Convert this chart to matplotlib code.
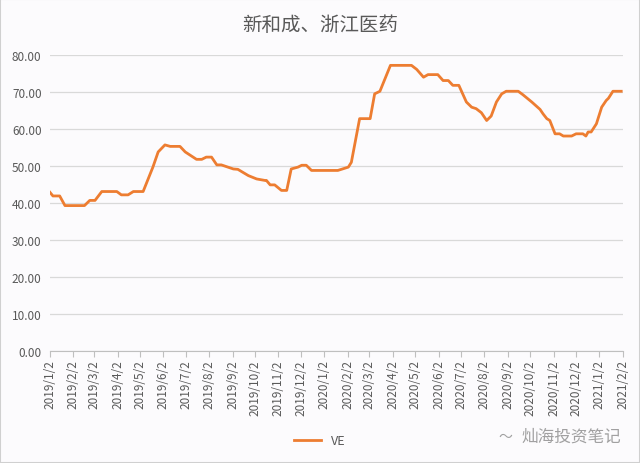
import matplotlib.pyplot as plt
from matplotlib.patches import Rectangle
import pandas as pd

plt.rcParams['font.family'] = ['Noto Sans CJK SC', 'DejaVu Sans']

# VE price series
dates = [
    '2019-01-02', '2019-01-06', '2019-01-15', '2019-01-22', '2019-02-17', '2019-02-24',
    '2019-03-03', '2019-03-12', '2019-04-01', '2019-04-07', '2019-04-16', '2019-04-23',
    '2019-05-06', '2019-05-19', '2019-05-26', '2019-06-04', '2019-06-11', '2019-06-24',
    '2019-07-01', '2019-07-16', '2019-07-23', '2019-07-29', '2019-08-05', '2019-08-12',
    '2019-08-18', '2019-09-03', '2019-09-09', '2019-09-23', '2019-10-04', '2019-10-15',
    '2019-10-17', '2019-10-22', '2019-10-28', '2019-11-06', '2019-11-13', '2019-11-19',
    '2019-11-28', '2019-12-03', '2019-12-09', '2019-12-16', '2020-01-20', '2020-02-03',
    '2020-02-07', '2020-02-18', '2020-03-03', '2020-03-09', '2020-03-16', '2020-03-30',
    '2020-04-27', '2020-05-04', '2020-05-13', '2020-05-19', '2020-06-01', '2020-06-08',
    '2020-06-15', '2020-06-21', '2020-06-29', '2020-07-09', '2020-07-16', '2020-07-22',
    '2020-07-29', '2020-08-05', '2020-08-11', '2020-08-18', '2020-08-25', '2020-08-31',
    '2020-09-16', '2020-09-22', '2020-10-04', '2020-10-15', '2020-10-19', '2020-10-24',
    '2020-10-28', '2020-11-04', '2020-11-10', '2020-11-15', '2020-11-26', '2020-12-02',
    '2020-12-11', '2020-12-15', '2020-12-18', '2020-12-22', '2020-12-29', '2021-01-05',
    '2021-01-11', '2021-01-14', '2021-01-20', '2021-01-31',
]
ve = [
    42.9, 41.9, 41.9, 39.3, 39.3, 40.7,
    40.7, 43.1, 43.1, 42.2, 42.2, 43.1,
    43.1, 49.7, 53.8, 55.7, 55.3, 55.3,
    53.8, 51.8, 51.8, 52.4, 52.4, 50.3,
    50.3, 49.2, 49.1, 47.4, 46.5, 46.1,
    46.1, 44.9, 44.9, 43.4, 43.4, 49.2,
    49.7, 50.2, 50.2, 48.8, 48.8, 49.7,
    51.0, 62.8, 62.8, 69.5, 70.2, 77.2,
    77.2, 76.1, 74.0, 74.7, 74.7, 73.1,
    73.1, 71.8, 71.8, 67.3, 65.9, 65.5,
    64.4, 62.3, 63.5, 67.3, 69.5, 70.2,
    70.2, 69.3, 67.3, 65.3, 64.1, 62.8,
    62.3, 58.7, 58.7, 58.1, 58.1, 58.7,
    58.7, 58.1, 59.2, 59.2, 61.4, 65.9,
    67.7, 68.3, 70.2, 70.2,
]
tick_dates = pd.date_range('2019-01-01', '2021-02-01', freq='MS') + pd.Timedelta(days=1)
tick_labels = [f'{d.year}/{d.month}/{d.day}' for d in tick_dates]
y_ticks = list(range(0, 90, 10))

BG = '#fcfbfd'
fig = plt.figure(figsize=(6.4, 4.64), dpi=100, facecolor=BG)
ax = fig.add_axes([0.078, 0.2414, 0.895, 0.6379], facecolor=BG)

x = pd.to_datetime(dates)
ax.plot(x, ve, color='#ed7d31', linewidth=2.0, solid_joinstyle='round', zorder=3, label='VE')

ax.set_ylim(0, 80)
ax.set_xlim(tick_dates[0], tick_dates[-1])
ax.set_yticks(y_ticks)
ax.set_yticklabels([f'{v:.2f}' for v in y_ticks])
ax.set_xticks(tick_dates)
ax.set_xticklabels(tick_labels, rotation=90)
ax.tick_params(axis='y', length=0, labelsize=8.5, labelcolor='#595959', pad=6)
ax.tick_params(axis='x', length=4, color='#bfbfbf', labelsize=8.5, labelcolor='#595959', pad=2)
ax.grid(axis='y', color='#d9d9d9', linewidth=0.9)
ax.set_axisbelow(True)
for s in ['top', 'right', 'left']:
    ax.spines[s].set_visible(False)
ax.spines['bottom'].set_color('#bfbfbf')

fig.text(0.5, 0.945, '新和成、浙江医药', ha='center', va='center', fontsize=14,
         color='#595959')

leg = fig.legend(loc='center', bbox_to_anchor=(0.5, 0.048), frameon=False, fontsize=9,
                 handlelength=2.2)
for t in leg.get_texts():
    t.set_color('#595959')

# watermark
fig.text(0.97, 0.058, '灿海投资笔记', ha='right', va='center', fontsize=12,
         color='#8a8a8a', alpha=0.8)
fig.text(0.8, 0.058, '〜', ha='right', va='center', fontsize=10, color='#a0a0a0')

fig.patches.append(Rectangle((0, 0), 1, 1, transform=fig.transFigure, fill=False,
                             edgecolor='#d0d0d0', linewidth=1.5))

fig.savefig('out.png', dpi=100, facecolor=BG)
